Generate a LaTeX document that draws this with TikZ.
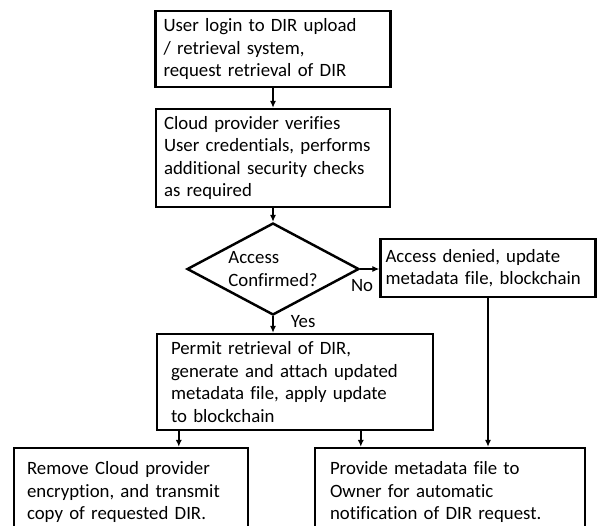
\documentclass[tikz,border=0pt]{standalone}
\usepackage{fontspec}
\setmainfont{Carlito}[Ligatures=NoCommon]
\usetikzlibrary{shapes.geometric, arrows.meta, calc}

\begin{document}
\begin{tikzpicture}[x=0.02cm, y=-0.02cm,
    box/.style={draw, rectangle, line width=1.4pt, align=left, inner ysep=0pt,
        font=\fontsize{10.7}{12.8}\selectfont},
    decision/.style={draw, diamond, line width=1.4pt, aspect=1.87, inner sep=0pt,
        minimum width=3.44cm, minimum height=1.84cm, align=left,
        font=\fontsize{10.7}{12.8}\selectfont},
    flow/.style={line width=1pt, -{Latex[length=4pt, width=3.6pt]}},
    lbl/.style={inner sep=0pt, font=\fontsize{10.7}{12.8}\selectfont}]
    \useasboundingbox (0,0) rectangle (601,525);
    \clip (0,0) rectangle (601,525);
    \fill[white] (0,0) rectangle (601,525);

    % Request and checks
    \node[box, text width=4.38cm, inner xsep=0.16cm, minimum width=4.70cm, minimum height=1.52cm]
        (login) at (273,49) {User login to DIR upload\\/ retrieval system,\\request retrieval of DIR};
    \node[box, text width=4.36cm, inner xsep=0.16cm, minimum width=4.68cm, minimum height=1.96cm]
        (verify) at (273,158) {Cloud provider verifies\\User credentials, performs\\additional security checks\\as required};

    % Decision
    \node[decision] (dia) at (273,269) {Access\\Confirmed?};
    \node[box, text width=4.10cm, inner xsep=0.10cm, minimum width=4.30cm, minimum height=1.16cm]
        (denied) at (488,268) {Access denied, update\\metadata file, blockchain};
    \node[box, text width=4.96cm, inner xsep=0.28cm, minimum width=5.52cm, minimum height=1.92cm]
        (permit) at (295,382) {Permit retrieval of DIR,\\generate and attach updated\\metadata file, apply update\\to blockchain};

    % Outcomes
    \node[box, text width=4.16cm, inner xsep=0.26cm, minimum width=4.68cm, minimum height=1.76cm]
        (remove) at (131,492) {Remove Cloud provider\\encryption, and transmit\\copy of requested DIR.};
    \node[box, text width=4.80cm, inner xsep=0.30cm, minimum width=5.40cm, minimum height=1.76cm]
        (provide) at (450,492) {Provide metadata file to\\Owner for automatic\\notification of DIR request.};

    % Connections
    \draw[flow] (login) -- (verify);
    \draw[flow] (verify) -- (dia);
    \draw[flow] (dia.east) -- (dia.east -| denied.west)
        node[lbl, anchor=north, pos=0.1, yshift=-0.2cm] (no) {No};
    \draw[flow] (dia.south) -- (dia.south |- permit.north)
        node[lbl, anchor=west, pos=0.35, xshift=0.34cm] (yes) {Yes};
    \coordinate (splitL) at ($(permit.south west)+(23,0)$);
    \coordinate (splitR) at ($(permit.south west)+(205,0)$);
    \draw[flow] (splitL) -- (splitL |- remove.north);
    \draw[flow] (splitR) -- (splitR |- provide.north);
    \draw[flow] (denied.south) -- (denied.south |- provide.north);
\end{tikzpicture}
\end{document}
